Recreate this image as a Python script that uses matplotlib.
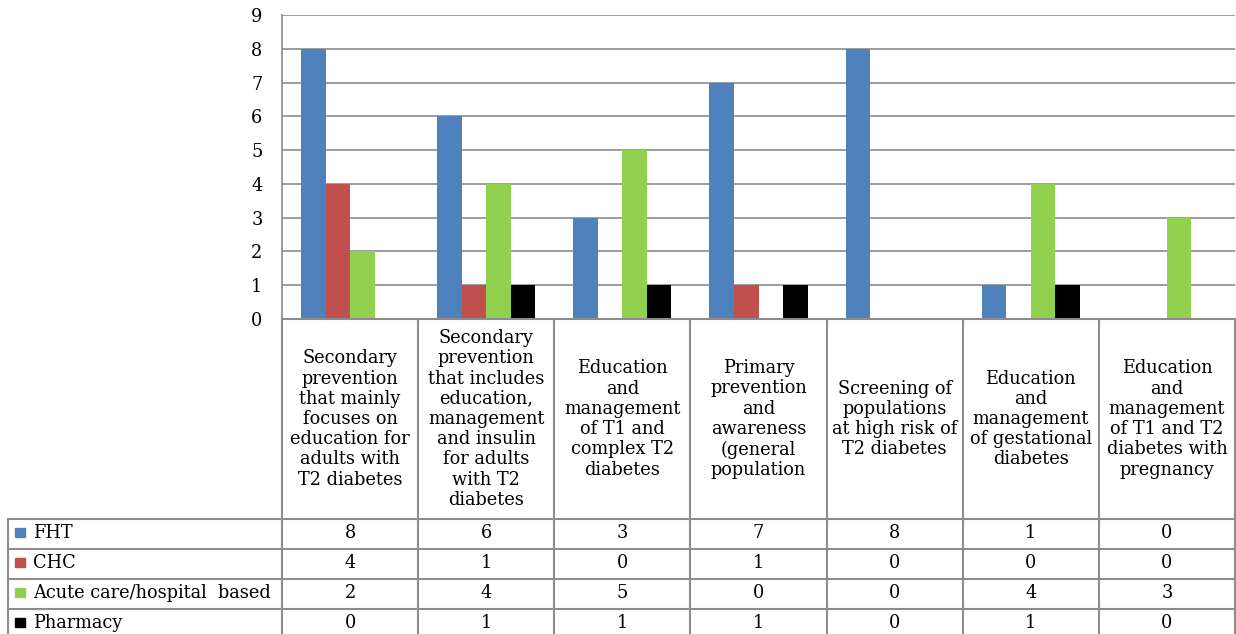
import numpy as np
import matplotlib.pyplot as plt
from matplotlib.patches import Rectangle

plt.rcParams['font.family'] = ['DejaVu Serif']

# Services by delivery setting
categories = [
    'Secondary\nprevention\nthat mainly\nfocuses on\neducation for\nadults with\nT2 diabetes',
    'Secondary\nprevention\nthat includes\neducation,\nmanagement\nand insulin\nfor adults\nwith T2\ndiabetes',
    'Education\nand\nmanagement\nof T1 and\ncomplex T2\ndiabetes',
    'Primary\nprevention\nand\nawareness\n(general\npopulation',
    'Screening of\npopulations\nat high risk of\nT2 diabetes',
    'Education\nand\nmanagement\nof gestational\ndiabetes',
    'Education\nand\nmanagement\nof T1 and T2\ndiabetes with\npregnancy',
]
series_names = ['FHT', 'CHC', 'Acute care/hospital  based', 'Pharmacy']
fht = [8, 6, 3, 7, 8, 1, 0]
chc = [4, 1, 0, 1, 0, 0, 0]
acute = [2, 4, 5, 0, 0, 4, 3]
pharmacy = [0, 1, 1, 1, 0, 1, 0]
y_ticks = list(range(10))

colors = ['#4F81BD', '#C0504D', '#92D050', '#000000']
grid_col = '#8c8c8c'
fs = 12.8

W, H = 1236, 634
fig = plt.figure(figsize=(W / 100, H / 100), dpi=100)

# chart area in pixel terms
x0, x1 = 282, 1235
y_top, y_zero = 15, 319
ax = fig.add_axes([x0 / W, (H - y_zero) / H, (x1 - x0) / W, (y_zero - y_top) / H])

n = len(categories)
x = np.arange(n) + 0.5
w = 0.18
for k, vals in enumerate([fht, chc, acute, pharmacy]):
    ax.bar(x + (k - 1.5) * w, vals, width=w, color=colors[k], zorder=3)

ax.set_xlim(0, n)
ax.set_ylim(0, 9)
ax.set_yticks(y_ticks)
ax.set_yticklabels([str(t) for t in y_ticks], fontsize=fs)
ax.tick_params(axis='y', length=0, pad=14)
ax.set_xticks([])
ax.grid(axis='y', color=grid_col, linewidth=1.2, zorder=0)
for s in ['top', 'right', 'bottom']:
    ax.spines[s].set_visible(False)
ax.spines['left'].set_color(grid_col)
ax.spines['left'].set_linewidth(1.2)

# data table drawn in pixel coordinates underneath
tab = fig.add_axes([0, 0, 1, 1])
tab.set_xlim(0, W)
tab.set_ylim(H, 0)
tab.axis('off')

col_w = (x1 - x0) / n
col_edges = [x0 + i * col_w for i in range(n + 1)]
row_edges = [519, 549, 579, 609, 639]
lw = 1.5

tab.plot([x0, x1], [y_zero, y_zero], color=grid_col, lw=lw)
for xe in col_edges:
    tab.plot([xe, xe], [y_zero, H], color=grid_col, lw=lw)
tab.plot([8, 8], [row_edges[0], H], color=grid_col, lw=lw)
for ye in row_edges[:-1]:
    tab.plot([8, x1], [ye, ye], color=grid_col, lw=lw)

for i, label in enumerate(categories):
    tab.text(col_edges[i] + col_w / 2, 419, label, ha='center', va='center',
             fontsize=fs, linespacing=1.16)

for r, (name, vals) in enumerate(zip(series_names, [fht, chc, acute, pharmacy])):
    yc = (row_edges[r] + row_edges[r + 1]) / 2 - 1
    tab.add_patch(Rectangle((15, yc - 5), 10, 9, color=colors[r]))
    tab.text(33, yc, name, ha='left', va='center', fontsize=fs)
    for i, v in enumerate(vals):
        tab.text(col_edges[i] + col_w / 2, yc, str(v), ha='center', va='center',
                 fontsize=fs)

fig.savefig('out.png', dpi=100)
